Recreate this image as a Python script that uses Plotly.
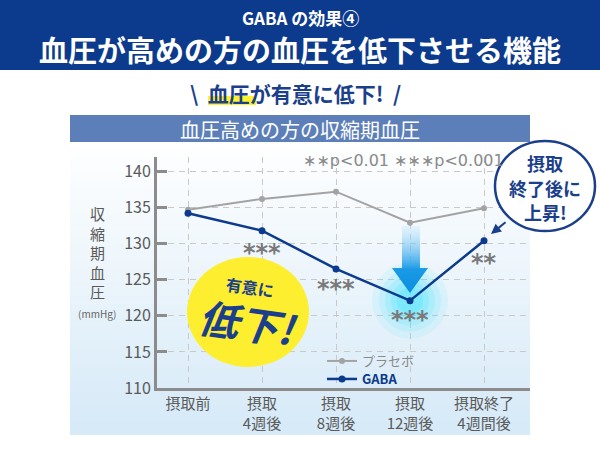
import plotly.graph_objects as go

# ---------------- data ----------------
categories = ["摂取前", "摂取<br>4週後", "摂取<br>8週後", "摂取<br>12週後", "摂取終了<br>4週間後"]
placebo = [134.7, 136.2, 137.2, 132.9, 134.9]
gaba = [134.2, 131.8, 126.5, 122.1, 130.4]
sig_marks = ["", "***", "***", "***", "**"]
y_ticks = [110, 115, 120, 125, 130, 135, 140]

# ---------------- geometry helpers ----------------
L, R, T, B = 157, 530, 157, 388
W, H = R - L, B - T
X0, X1 = -31 / 74, 4 + 46 / 74
Y0, Y1 = 110, 110 + H / 7.2185


def px(x):
    return (x - L) / W


def py(y):
    return (B - y) / H


def dy(pyv):
    return Y0 + (B - pyv) / H * (Y1 - Y0)


def dx(pxv):
    return X0 + (pxv - L) / W * (X1 - X0)


DARK = "#0c3a8c"
NAVY = "#1b3f8b"
GREY_T = "#5a5a5a"
FONT = "Noto Sans CJK JP"
AST = "DejaVu Sans"

fig = go.Figure()

# soft cyan glow behind 12-week point
for s, a in [(76, 0.10), (62, 0.14), (50, 0.18), (38, 0.24), (26, 0.30)]:
    fig.add_trace(go.Scatter(
        x=[3], y=[gaba[3]], mode="markers", showlegend=False, hoverinfo="skip",
        marker=dict(size=s, color=f"rgba(70,228,255,{a})", line=dict(width=0)),
    ))

# blue down arrow above the 12-week point
tip_y = dy(293)
ax = [dx(402), dx(420), dx(420), dx(428), 3, dx(392), dx(402), dx(402)]
ay = [dy(226), dy(226), dy(268), dy(268), tip_y, dy(268), dy(268), dy(226)]
fig.add_trace(go.Scatter(
    x=ax, y=ay, mode="lines", fill="toself", showlegend=False, hoverinfo="skip",
    line=dict(width=0, color="rgba(0,0,0,0)"),
    fillgradient=dict(type="vertical",
                      colorscale=[[0, "#0a8ee0"], [0.35, "#1a9ae6"], [1, "rgba(190,230,252,0.3)"]]),
))

fig.add_trace(go.Scatter(
    x=list(range(5)), y=placebo, mode="lines+markers", name="<span style='color:#8a8a8a'>プラセボ</span>",
    line=dict(color="#a3a3a3", width=2), marker=dict(size=6, color="#a3a3a3"), legend="legend",
))
fig.add_trace(go.Scatter(
    x=list(range(5)), y=gaba, mode="lines+markers", name="<b><span style='color:#0c3a8c'>GABA</span></b>",
    line=dict(color=DARK, width=2.5), marker=dict(size=7, color=DARK), legend="legend2",
))

shapes = []
# header banner
shapes.append(dict(type="rect", xref="paper", yref="paper", x0=px(0), x1=px(600), y0=py(0), y1=py(70),
                   fillcolor=DARK, line=dict(width=0), layer="below"))
# panel gradient background
n = 40
top, bot = 142, 435
for i in range(n):
    t = i / (n - 1)
    r = int(255 + (214 - 255) * t)
    g = int(255 + (234 - 255) * t)
    b = int(255 + (248 - 255) * t)
    y0p = top + (bot - top) * i / n
    y1p = top + (bot - top) * (i + 1) / n + 0.5
    shapes.append(dict(type="rect", xref="paper", yref="paper", x0=px(70), x1=px(530),
                       y0=py(y0p), y1=py(min(y1p, bot)), fillcolor=f"rgb({r},{g},{b})",
                       line=dict(width=0), layer="below"))
# panel title bar
shapes.append(dict(type="rect", xref="paper", yref="paper", x0=px(70), x1=px(530), y0=py(115), y1=py(142),
                   fillcolor="#5d7fb9", line=dict(width=0), layer="below"))
# yellow highlight under 血圧
shapes.append(dict(type="rect", xref="paper", yref="paper", x0=px(208), x1=px(256), y0=py(96), y1=py(105),
                   fillcolor="#fff22e", line=dict(width=0), layer="below"))
# yellow circle
shapes.append(dict(type="circle", xref="paper", yref="paper", x0=px(187), x1=px(309), y0=py(257), y1=py(367),
                   fillcolor="#feee30", line=dict(width=0), layer="above"))
# callout circle
shapes.append(dict(type="circle", xref="paper", yref="paper", x0=px(495), x1=px(595), y0=py(141), y1=py(231),
                   fillcolor="white", line=dict(width=2.5, color=NAVY), layer="above"))

ann = []


def A(text, x, y, size, color, family=FONT, **kw):
    d = dict(text=text, x=px(x), y=py(y), xref="paper", yref="paper", showarrow=False,
             xanchor="center", yanchor="middle", font=dict(size=size, color=color, family=family))
    d.update(kw)
    ann.append(d)


A("<b>GABA の効果④</b>", 300, 17, 17, "white")
A("<b>血圧が高めの方の血圧を低下させる機能</b>", 300, 49, 29, "white")
A("<b>\\  血圧が有意に低下!  /</b>", 295, 93, 21, NAVY)
A("血圧高めの方の収縮期血圧", 300, 129, 20, "white")
A("<br>".join("収縮期血圧"), 97, 252, 15, GREY_T)
A("(mmHg)", 97, 313, 10, "#666666")
A("∗∗p&lt;0.01 ∗∗∗p&lt;0.001", 403, 160, 16, "#8a8a8a", family=AST + ", " + FONT)

sig_y = [None, 247, 283, 314, 257]
for i, m in enumerate(sig_marks):
    if m:
        ann.append(dict(text="<b>" + m + "</b>", x=i, y=py(sig_y[i] + 6), xref="x", yref="paper",
                        showarrow=False, xanchor="center", yanchor="middle",
                        font=dict(size=24, color="#7a7a7a", family=AST)))

A("<b>有意に</b>", 250, 287, 16, NAVY, textangle=8)
A("<b><i>低下!</i></b>", 248, 322, 40, NAVY, textangle=8)
A("<b>摂取</b>", 545, 163, 18, NAVY)
A("<b>終了後に</b>", 545, 188, 18, NAVY)
A("<b>上昇!</b>", 545, 212, 18, NAVY)
# arrow from callout to last GABA point
ann.append(dict(text="", x=px(491), y=py(234), xref="paper", yref="paper", showarrow=True,
                ax=16, ay=-13, arrowhead=2, arrowsize=1, arrowwidth=2, arrowcolor=NAVY))

leg_common = dict(xanchor="left", yanchor="middle", bgcolor="rgba(0,0,0,0)",
                  font=dict(size=13, family=FONT), itemwidth=30, tracegroupgap=0)

fig.update_layout(
    width=600, height=450,
    margin=dict(l=L, r=600 - R, t=T, b=450 - B),
    paper_bgcolor="white", plot_bgcolor="rgba(0,0,0,0)",
    font=dict(family=FONT, color=GREY_T),
    shapes=shapes, annotations=ann,
    showlegend=True,
    legend=dict(x=px(322), y=py(361), **leg_common),
    legend2=dict(x=px(322), y=py(379), **leg_common),
    xaxis=dict(range=[X0, X1], tickmode="array", tickvals=list(range(5)), ticktext=categories,
               showline=True, linecolor="#8c8c8c", linewidth=3, showgrid=True, gridcolor="#c9c9c9",
               griddash="6px,5px", gridwidth=1, zeroline=False, ticks="",
               tickfont=dict(size=15, color=GREY_T, family=FONT)),
    yaxis=dict(range=[Y0, Y1], tickmode="array", tickvals=y_ticks,
               showline=True, linecolor="#8c8c8c", linewidth=3, showgrid=True, gridcolor="#c9c9c9",
               griddash="6px,5px", gridwidth=1, zeroline=False, ticks="inside", ticklen=10,
               tickwidth=3, tickcolor="#8c8c8c", tickfont=dict(size=16, color=GREY_T, family=FONT)),
)

fig.write_html("out.html", config={"displayModeBar": False},
               post_script="document.body.style.margin='0';document.body.style.overflow='hidden';")
